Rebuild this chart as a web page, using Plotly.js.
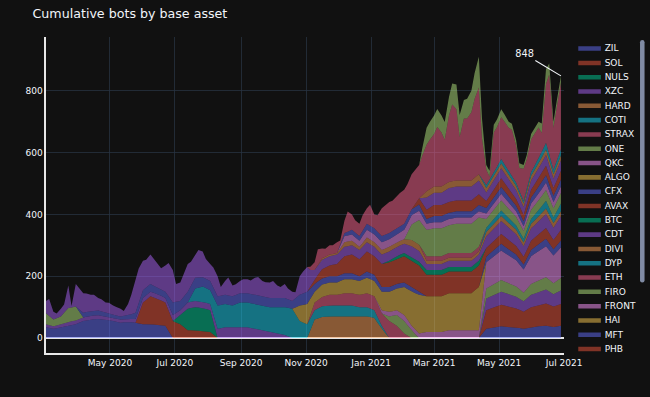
<!DOCTYPE html>
<html>
<head>
<meta charset="utf-8">
<script src="https://cdn.plot.ly/plotly-3.0.1.min.js"></script>
<style>
html,body{margin:0;padding:0;background:#111111;overflow:hidden;width:650px;height:397px}
#wrap{width:650px;height:397px;overflow:hidden;position:relative}
#chart{width:863px;height:527px;transform:scale(0.75319);transform-origin:0 0}
</style>
</head>
<body>
<div id="wrap"><div id="chart"></div></div>
<script>
// weekly dates (most series)
const dates = ['2020-03-02','2020-03-09','2020-03-16','2020-03-23','2020-03-30','2020-04-06','2020-04-13','2020-04-20','2020-04-27','2020-05-04',
'2020-05-11','2020-05-18','2020-05-25','2020-06-01','2020-06-08','2020-06-15','2020-06-22','2020-06-29','2020-07-06','2020-07-13',
'2020-07-20','2020-07-27','2020-08-03','2020-08-10','2020-08-17','2020-08-24','2020-08-31','2020-09-07','2020-09-14','2020-09-21',
'2020-09-28','2020-10-05','2020-10-12','2020-10-19','2020-10-26','2020-11-02','2020-11-09','2020-11-16','2020-11-23','2020-11-30',
'2020-12-07','2020-12-14','2020-12-21','2020-12-28','2021-01-04','2021-01-11','2021-01-18','2021-01-25','2021-02-01','2021-02-08',
'2021-02-15','2021-02-22','2021-03-01','2021-03-08','2021-03-15','2021-03-22','2021-03-29','2021-04-05','2021-04-12','2021-04-19',
'2021-04-26','2021-05-03','2021-05-10','2021-05-17','2021-05-24','2021-05-31','2021-06-07','2021-06-14','2021-06-21','2021-06-28'];

// twice-weekly dates through early Nov 2020, weekly after (CDT)
const datesCDT = ['2020-03-02','2020-03-05','2020-03-09','2020-03-12','2020-03-16','2020-03-19','2020-03-23','2020-03-26','2020-03-30','2020-04-02',
'2020-04-06','2020-04-09','2020-04-13','2020-04-16','2020-04-20','2020-04-23','2020-04-27','2020-04-30','2020-05-04','2020-05-07',
'2020-05-11','2020-05-14','2020-05-18','2020-05-21','2020-05-25','2020-05-28','2020-06-01','2020-06-04','2020-06-08','2020-06-11',
'2020-06-15','2020-06-18','2020-06-22','2020-06-25','2020-06-29','2020-07-02','2020-07-06','2020-07-09','2020-07-13','2020-07-16',
'2020-07-20','2020-07-23','2020-07-27','2020-07-30','2020-08-03','2020-08-06','2020-08-10','2020-08-13','2020-08-17','2020-08-20',
'2020-08-24','2020-08-27','2020-08-31','2020-09-03','2020-09-07','2020-09-10','2020-09-14','2020-09-17','2020-09-21','2020-09-24',
'2020-09-28','2020-10-01','2020-10-05','2020-10-08','2020-10-12','2020-10-15','2020-10-19','2020-10-22','2020-10-26','2020-10-29',
'2020-11-02','2020-11-05',
'2020-11-09','2020-11-16','2020-11-23','2020-11-30',
'2020-12-07','2020-12-14','2020-12-21','2020-12-28','2021-01-04','2021-01-11','2021-01-18','2021-01-25','2021-02-01','2021-02-08',
'2021-02-15','2021-02-22','2021-03-01','2021-03-08','2021-03-15','2021-03-22','2021-03-29','2021-04-05','2021-04-12','2021-04-19',
'2021-04-26','2021-05-03','2021-05-10','2021-05-17','2021-05-24','2021-05-31','2021-06-07','2021-06-14','2021-06-21','2021-06-28'];

// weekly through early Nov 2020, twice-weekly after (TRX)
const datesTRX = ['2020-03-02','2020-03-09','2020-03-16','2020-03-23','2020-03-30','2020-04-06','2020-04-13','2020-04-20','2020-04-27','2020-05-04',
'2020-05-11','2020-05-18','2020-05-25','2020-06-01','2020-06-08','2020-06-15','2020-06-22','2020-06-29','2020-07-06','2020-07-13',
'2020-07-20','2020-07-27','2020-08-03','2020-08-10','2020-08-17','2020-08-24','2020-08-31','2020-09-07','2020-09-14','2020-09-21',
'2020-09-28','2020-10-05','2020-10-12','2020-10-19','2020-10-26','2020-11-02',
'2020-11-09','2020-11-12','2020-11-16','2020-11-19','2020-11-23','2020-11-26','2020-11-30','2020-12-03','2020-12-07','2020-12-10',
'2020-12-14','2020-12-17','2020-12-21','2020-12-24','2020-12-28','2020-12-31','2021-01-04','2021-01-07','2021-01-11','2021-01-14',
'2021-01-18','2021-01-21','2021-01-25','2021-01-28','2021-02-01','2021-02-04','2021-02-08','2021-02-11','2021-02-15','2021-02-18',
'2021-02-22','2021-02-25','2021-03-01','2021-03-04','2021-03-08','2021-03-11','2021-03-15','2021-03-18','2021-03-22','2021-03-25',
'2021-03-29','2021-04-01','2021-04-05','2021-04-08','2021-04-12','2021-04-15','2021-04-19','2021-04-22','2021-04-26','2021-04-29',
'2021-05-03','2021-05-06','2021-05-10','2021-05-13','2021-05-17','2021-05-20','2021-05-24','2021-05-27','2021-05-31','2021-06-03',
'2021-06-07','2021-06-10','2021-06-14','2021-06-17','2021-06-21','2021-06-24','2021-06-28'];

const ZIL   = [35,30,35,40,45,55,60,62,60,55, 50,52,50,45,45,42,40,0,0,0, 0,0,0,0,0,0,0,0,0,0, 0,0,0,0,0,0,0,0,0,0, 0,0,0,0,0,0,0,0,0,0, 0,0,0,0,0,0,0,0,0,30, 35,38,36,34,30,35,38,40,36,40];
const SOL   = [0,0,0,0,0,0,0,0,0,0, 0,0,0,70,90,85,75,55,45,25, 25,22,20,0,0,0,0,0,0,0, 0,0,0,0,0,0,0,0,0,0, 0,0,0,0,0,0,0,0,0,0, 0,0,0,0,0,0,0,0,0,60, 65,70,66,62,55,65,68,72,66,70];
const NULS  = [0,0,0,0,0,0,0,0,0,0, 0,0,0,0,0,0,0,0,30,70, 75,75,70,0,0,0,0,0,0,0, 0,0,0,0,0,0,0,0,0,0, 0,0,0,0,0,0,0,0,0,0, 0,0,0,0,0,0,0,0,0,0, 0,0,0,0,0,0,0,0,0,0];
const XZC   = [10,8,10,12,12,12,12,12,10,10, 10,10,12,15,15,15,15,20,15,20, 20,20,20,30,35,35,35,35,30,25, 20,15,10,0,0,0,0,0,0,0, 0,0,0,0,0,0,0,0,0,0, 0,0,0,0,0,0,0,0,0,38, 40,42,40,38,34,40,42,45,40,44];
const HARD  = [0,0,0,0,0,0,0,0,0,0, 0,0,0,0,0,0,0,0,0,0, 0,0,0,0,0,0,0,0,0,0, 0,0,0,0,0,0,60,68,70,70, 70,70,70,70,65,30,0,0,0,0, 0,0,0,0,0,0,0,0,0,0, 0,0,0,0,0,0,0,0,0,0];
const COTI  = [0,0,0,0,0,0,0,0,0,0, 0,0,0,0,0,0,0,0,0,0, 40,50,45,75,75,70,80,80,80,80, 80,85,90,95,55,45,30,35,35,35, 35,35,30,30,25,10,0,0,0,0, 0,0,0,0,0,0,0,0,0,0, 0,0,0,0,0,0,0,0,0,0];
const STRAX = [0,0,0,0,0,0,0,0,0,0, 0,0,0,0,0,0,0,0,0,0, 0,0,0,0,0,0,0,0,0,0, 0,0,0,0,0,0,25,30,35,35, 40,40,40,45,45,40,55,40,15,0, 0,0,0,0,0,0,0,0,0,0, 0,0,0,0,0,0,0,0,0,0];
const ONE   = [35,22,25,45,45,0,0,0,0,0, 0,0,0,0,0,0,0,0,0,0, 0,0,0,0,0,0,0,0,0,0, 0,0,0,0,0,0,0,0,0,0, 0,0,0,0,0,0,15,35,40,25, 0,0,0,0,0,0,0,0,0,32, 35,38,35,33,28,35,38,40,35,40];
const QKC   = [0,0,0,0,0,0,0,0,0,0, 0,0,0,0,0,0,0,0,0,0, 0,0,0,0,0,0,0,0,0,0, 0,0,0,0,0,0,0,0,0,0, 0,0,0,0,0,10,15,15,20,15, 15,20,20,20,25,25,25,25,25,85, 90,95,90,85,75,90,95,100,90,100];
const ALGO  = [0,0,0,0,0,0,0,0,0,0, 0,0,0,0,0,0,0,0,0,0, 0,0,0,0,0,0,0,0,0,0, 0,0,0,0,50,65,35,40,40,40, 45,45,45,50,50,60,65,70,90,110, 125,115,115,115,120,120,120,120,140,0, 0,0,0,0,0,0,0,0,0,0];
const CFX   = [0,0,0,0,0,15,15,15,12,10, 10,12,20,25,25,20,20,40,30,35, 35,30,30,30,30,30,30,30,30,30, 30,30,30,25,35,40,25,20,20,20, 20,20,15,20,20,15,15,15,15,15, 10,0,0,0,0,0,0,0,0,18, 20,22,20,18,16,20,22,24,20,22];
const AVAX  = [0,0,0,0,0,0,0,0,0,0, 0,0,0,0,0,0,0,0,0,0, 0,0,0,0,0,0,0,0,0,0, 0,0,0,0,0,0,15,30,35,40, 55,60,55,65,60,75,80,80,85,85, 85,70,70,70,70,70,70,70,70,28, 30,32,30,28,25,30,32,35,30,34];
const BTC   = [0,0,0,0,0,0,0,0,0,0, 0,0,0,0,0,0,0,0,0,0, 0,0,0,0,0,0,0,0,0,0, 0,0,0,0,0,0,0,0,0,0, 0,0,0,0,0,0,5,10,10,12, 12,15,15,15,15,15,15,15,15,0, 0,0,0,0,0,0,0,0,0,0];
const CDT   = [40,55,25,15,25,27,73,5,73,68, 63,60,53,52,41,40,33,35,30,28,
               25,16,36,62,108,112,95,90,95,87, 78,69,85,108,105,58,60,75,90,78,
               75,89,83,64,55,65,65,28,45,58, 35,35,40,45,45,43,55,60,50,48,
               50,55,40,35,45,35,30,20,60,70, 80,53,
               30,30,30,30, 30,30,30,30,30,30,30,30,30,35, 35,20,20,20,20,20,20,20,20,38, 40,42,40,38,34,40,42,45,40,44];
const DIVI  = [0,0,0,0,0,0,0,0,0,0, 0,0,0,0,0,0,0,0,0,0, 0,0,0,0,0,0,0,0,0,0, 0,0,0,0,0,0,0,5,5,5, 15,15,10,15,15,15,15,15,15,20, 20,10,10,10,10,10,10,10,10,14, 15,16,15,14,12,15,16,18,15,16];
const DYP   = [0,0,0,0,0,0,0,0,0,0, 0,0,0,0,0,0,0,0,0,0, 0,0,0,0,0,0,0,0,0,0, 0,0,0,0,0,0,0,0,0,0, 0,0,0,0,0,0,0,0,0,0, 0,0,0,0,0,0,0,0,0,14, 15,18,16,14,12,15,20,25,18,25];
const ETH   = [0,0,0,0,0,0,0,0,0,0, 0,0,0,0,0,0,0,0,0,0, 0,0,0,0,0,0,0,0,0,0, 0,0,0,0,0,0,0,0,0,0, 0,0,0,0,0,0,0,0,0,0, 0,15,15,15,15,15,15,15,15,0, 0,0,0,0,0,0,0,0,0,0];
const FIRO  = [0,0,0,0,0,0,0,0,0,0, 0,0,0,0,0,0,0,0,0,0, 0,0,0,0,0,0,0,0,0,0, 0,0,0,0,0,0,0,0,0,0, 0,0,0,0,0,0,0,0,0,50, 80,85,90,90,90,95,95,95,95,28, 30,32,30,28,25,30,32,35,30,34];
const FRONT = [0,0,0,0,0,0,0,0,0,0, 0,0,0,0,0,0,0,0,0,0, 0,0,0,0,0,0,0,0,0,0, 0,0,0,0,0,0,0,0,0,0, 20,20,20,25,25,25,25,25,30,30, 30,20,20,20,20,20,20,20,20,18, 20,22,20,18,16,20,22,24,20,22];
const HAI   = [0,0,0,0,0,0,0,0,0,0, 0,0,0,0,0,0,0,0,0,0, 0,0,0,0,0,0,0,0,0,0, 0,0,0,0,0,0,0,0,0,0, 0,0,0,0,0,0,0,0,0,0, 0,0,0,0,0,0,0,0,0,0, 0,0,0,0,0,0,0,0,0,0];
const MFT   = [0,0,0,0,0,0,0,0,0,0, 0,0,0,0,0,0,0,0,0,0, 0,0,0,0,0,0,0,0,0,0, 0,0,0,0,0,0,0,0,0,0, 10,15,15,20,20,20,20,20,20,20, 20,15,20,20,20,20,20,20,20,18, 20,22,20,18,16,20,22,24,20,22];
const PHB   = [0,0,0,0,0,0,0,0,0,0, 0,0,0,0,0,0,0,0,0,0, 0,0,0,0,0,0,0,0,0,0, 0,0,0,0,0,0,0,0,0,0, 0,0,0,0,0,0,0,0,0,0, 20,30,35,35,35,35,35,35,35,22, 25,28,25,22,20,25,28,30,25,28];
const RSR   = [0,0,0,0,0,0,0,0,0,0, 0,0,0,0,0,0,0,0,0,0, 0,0,0,0,0,0,0,0,0,0, 0,0,0,0,0,0,0,0,0,0, 0,0,0,0,0,0,0,0,0,0, 0,0,0,0,0,0,0,0,0,0, 0,0,0,0,0,0,0,0,0,0];
const SAND  = [0,0,0,0,0,0,0,0,0,0, 0,0,0,0,0,0,0,0,0,0, 0,0,0,0,0,0,0,0,0,0, 0,0,0,0,0,0,0,0,0,0, 0,0,0,0,0,0,0,0,0,0, 0,40,40,40,45,45,45,45,45,28, 30,32,30,28,25,30,32,35,30,34];
const SRM   = [0,0,0,0,0,0,0,0,0,0, 0,0,0,0,0,0,0,0,0,0, 0,0,0,0,0,0,0,0,0,0, 0,0,0,0,0,0,0,0,0,0, 0,0,0,0,0,0,0,0,0,0, 0,20,20,20,20,20,20,20,20,14, 15,16,15,14,12,15,16,18,15,16];
const SXP   = [0,0,0,0,0,0,0,0,0,0, 0,0,0,0,0,0,0,0,0,0, 0,0,0,0,0,0,0,0,0,0, 0,0,0,0,0,0,0,0,0,0, 0,0,0,0,0,0,0,0,0,0, 0,0,0,0,0,0,0,0,0,10, 10,14,12,10,8,12,16,22,14,20];
const TRX   = [0,0,0,0,0,0,0,0,0,0, 0,0,0,0,0,0,0,0,0,0, 0,0,0,0,0,0,0,0,0,0, 0,0,0,0,0,0,
               25,51,32,26,30,28,35,13,40,65, 50,40,40,50,50,68,45,53,90,95,
               100,98,105,108,110,107,113,111,108,129, 150,160,170,193,175,145,215,248,230,140,
               200,200,220,255,280,130,50,10,130,128, 135,138,140,150,120,73,105,95,105,103,
               100,60,190,258,136,172,215];
const VET   = [0,0,0,0,0,0,0,0,0,0, 0,0,0,0,0,0,0,0,0,0, 0,0,0,0,0,0,0,0,0,0, 0,0,0,0,0,0,0,0,0,0, 0,0,0,0,0,0,0,0,0,0, 0,55,60,55,60,80,60,70,100,15, 25,26,20,18,12,18,19,48,20,22];
const XRP   = [0,0,0,0,0,0,0,0,0,0, 0,0,0,0,0,0,0,0,0,0, 0,0,0,0,0,0,0,0,0,0, 0,0,0,0,0,0,0,0,0,0, 0,0,0,0,0,0,0,0,0,0, 0,0,0,0,0,0,0,0,0,0, 0,0,0,0,0,0,0,0,0,0];

const assetNames = ['ZIL','SOL','NULS','XZC','HARD','COTI','STRAX','ONE','QKC','ALGO','CFX','AVAX','BTC','CDT','DIVI','DYP','ETH','FIRO','FRONT','HAI','MFT','PHB','RSR','SAND','SRM','SXP','TRX','VET','XRP'];
const assetValues = [ZIL,SOL,NULS,XZC,HARD,COTI,STRAX,ONE,QKC,ALGO,CFX,AVAX,BTC,CDT,DIVI,DYP,ETH,FIRO,FRONT,HAI,MFT,PHB,RSR,SAND,SRM,SXP,TRX,VET,XRP];
const assetDates = {CDT: datesCDT, TRX: datesTRX};
const palette = ['#636efa','#EF553B','#00cc96','#ab63fa','#FFA15A','#19d3f3','#FF6692','#B6E880','#FF97FF','#FECB52'];
const lastValue = 848;

const traces = assetNames.map((n, i) => ({
  type: 'scatter', mode: 'lines', name: n, x: assetDates[n] || dates, y: assetValues[i],
  stackgroup: 'one', stackgaps: 'interpolate', line: {width: 0, color: palette[i % 10]}
}));

const FONT = 'Verdana, "DejaVu Sans", sans-serif';
const layout = {
  width: 863, height: 527,
  paper_bgcolor: '#111111', plot_bgcolor: '#111111',
  font: {family: FONT, size: 12, color: '#f2f5fa'},
  title: {text: 'Cumulative bots by base asset', x: 0.05, xanchor: 'left', font: {family: FONT, size: 16.8, color: '#f2f5fa'}},
  margin: {l: 61, r: 114, t: 49, b: 58},
  showlegend: true,
  legend: {traceorder: 'normal', x: 1.02, y: 1, xanchor: 'left', yanchor: 'top', bgcolor: '#111111',
           maxheight: 425, font: {family: FONT, size: 12, color: '#f2f5fa'}},
  xaxis: {type: 'date', range: ['2020-03-02', '2021-07-01'], tick0: '2020-05-01', dtick: 'M2', tickformat: '%b %Y',
          gridcolor: '#283442', showline: true, linecolor: '#e8e8e8', linewidth: 2, zeroline: false, ticks: ''},
  yaxis: {range: [-49, 974], dtick: 200, gridcolor: '#283442', showline: true, linecolor: '#e8e8e8', linewidth: 2,
          zeroline: true, zerolinecolor: '#e8e8e8', zerolinewidth: 2, ticks: ''},
  annotations: [{x: dates[dates.length - 1], y: lastValue, text: String(lastValue), showarrow: true, arrowhead: 0, arrowwidth: 1.5,
                 arrowcolor: '#f2f5fa', ax: -48, ay: -29, font: {family: FONT, size: 13, color: '#f2f5fa'}}]
};
Plotly.newPlot('chart', traces, layout, {displayModeBar: false});
</script>
</body>
</html>
